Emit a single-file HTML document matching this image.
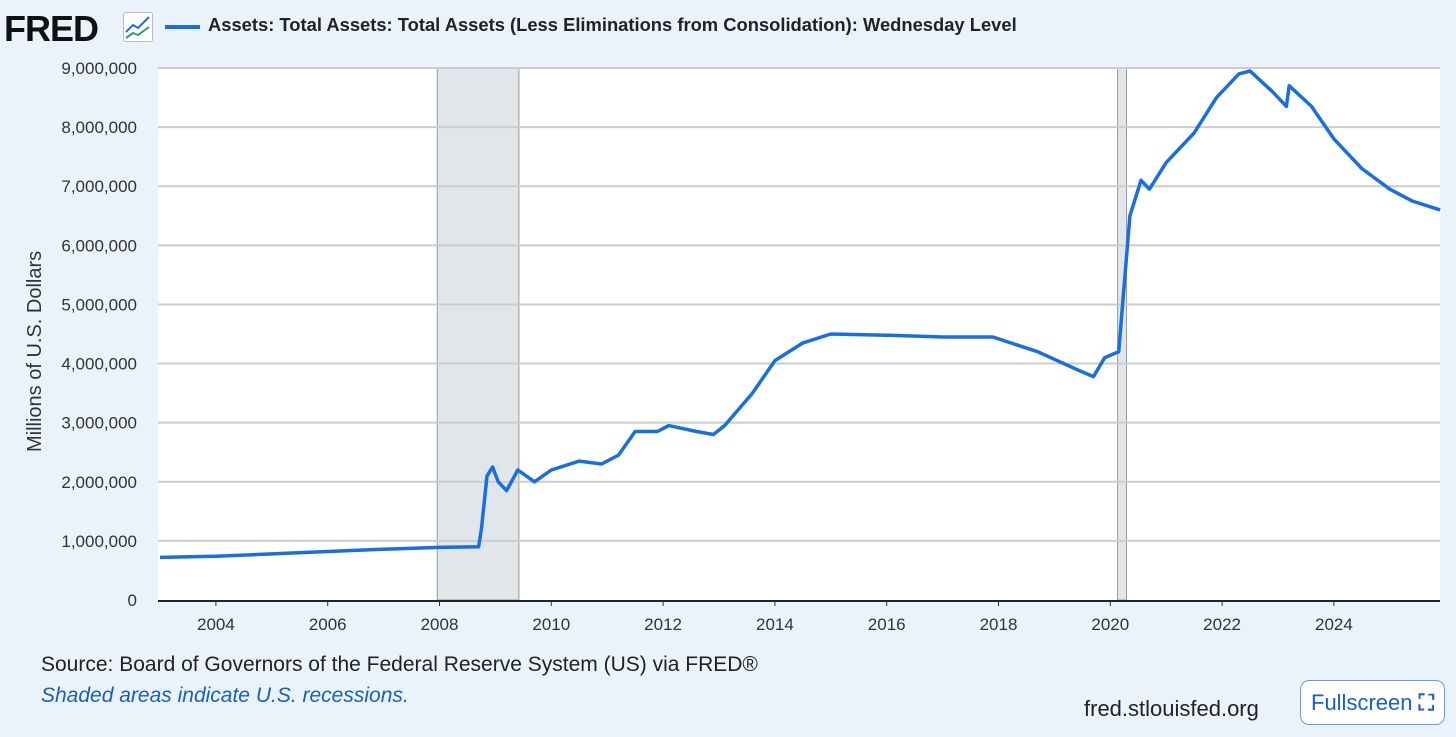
<!DOCTYPE html>
<html><head><meta charset="utf-8"><style>
body{margin:0;background:#eaf2fb;font-family:"Liberation Sans",sans-serif;}
#wrap{position:relative;width:1456px;height:737px;overflow:hidden;}
.t{position:absolute;white-space:nowrap;}
</style></head><body>
<div id="wrap">
<div class="t" style="left:4px;top:8px;font-size:36px;font-weight:bold;letter-spacing:-1px;color:#111;">FRED</div>
<svg style="position:absolute;left:123px;top:12px" width="30" height="30"><rect x="0.5" y="0.5" width="29" height="29" rx="2" fill="#fff" stroke="#bbb"/><polyline points="3,20 10,13 15,16 26,5" fill="none" stroke="#1a6fd8" stroke-width="2"/><polyline points="3,26 10,21 15,23 26,15" fill="none" stroke="#2a9d6e" stroke-width="2"/></svg>
<div style="position:absolute;left:165px;top:25px;width:35px;height:4px;background:#1a6fd8"></div>
<div class="t" style="left:208px;top:15px;font-size:18px;font-weight:bold;color:#222;transform:scaleX(1.02);transform-origin:0 0;">Assets: Total Assets: Total Assets (Less Eliminations from Consolidation): Wednesday Level</div>
<svg id="c" width="1456" height="737" style="position:absolute;left:0;top:0"></svg>
<div class="t" style="font-size:20px;color:#333;left:24px;top:452px;transform:rotate(-90deg);transform-origin:0 0;">Millions of U.S. Dollars</div>
<div class="t" style="left:41px;top:653px;font-size:21px;color:#222;">Source: Board of Governors of the Federal Reserve System (US) via FRED®</div>
<div class="t" style="left:41px;top:684px;font-size:21px;color:#1a5fb8;font-style:italic;">Shaded areas indicate U.S. recessions.</div>
<div class="t" style="left:1084px;top:696px;font-size:22px;color:#222;">fred.stlouisfed.org</div>
<div style="position:absolute;left:1300px;top:680px;width:145px;height:45px;box-sizing:border-box;border:1px solid #6a9ee0;border-radius:9px;background:#fff;color:#1a5fc8;font-size:22px;line-height:43px;padding-left:10px;">Fullscreen <span style="font-weight:bold">⛶</span></div>
</div>
<script>
const yTicks=[0,1000000,2000000,3000000,4000000,5000000,6000000,7000000,8000000,9000000];
const xTicks=[2004,2006,2008,2010,2012,2014,2016,2018,2020,2022,2024];
const recessions=[[2007.96,2009.42],[2020.13,2020.29]];
const years=[2003.0,2004,2005,2006,2007,2008,2008.7,2008.75,2008.85,2008.95,2009.05,2009.2,2009.4,2009.7,2010.0,2010.5,2010.9,2011.2,2011.5,2011.9,2012.1,2012.6,2012.9,2013.1,2013.6,2014.0,2014.5,2015.0,2016,2017,2017.9,2018.7,2019.4,2019.7,2019.9,2020.15,2020.35,2020.55,2020.7,2021.0,2021.5,2021.9,2022.3,2022.5,2022.9,2023.15,2023.2,2023.6,2024.0,2024.5,2025.0,2025.4,2025.9];
const values=[720000,740000,780000,820000,860000,890000,900000,1200000,2100000,2250000,2000000,1850000,2200000,2000000,2200000,2350000,2300000,2450000,2850000,2850000,2950000,2850000,2800000,2950000,3500000,4050000,4350000,4500000,4480000,4450000,4450000,4200000,3900000,3780000,4100000,4200000,6500000,7100000,6950000,7400000,7900000,8500000,8900000,8950000,8600000,8350000,8700000,8350000,7800000,7300000,6950000,6750000,6600000];
const NS="http://www.w3.org/2000/svg",svg=document.getElementById('c');
const L=158,R=1440,T=68,B=600;
const x=v=>160+(v-2003)*55.9, y=v=>B-(v/9000000)*(B-T);
function mk(t,a){const e=document.createElementNS(NS,t);for(const k in a)e.setAttribute(k,a[k]);svg.appendChild(e);return e;}
const bg=mk('rect',{x:L,y:T,width:R-L,height:B-T,fill:'#fff'});

recessions.forEach(r=>{const e=mk('rect',{x:x(r[0]),y:T,width:x(r[1])-x(r[0]),height:B-T,fill:'#e1e6ea',stroke:'#999','stroke-width':1});
});
yTicks.forEach(v=>{if(v>0){const g=mk('line',{x1:L,x2:R,y1:y(v),y2:y(v),stroke:'#ccc','stroke-width':2});
}
const t=mk('text',{x:137,y:y(v)+6,'text-anchor':'end','font-size':17,fill:'#333','font-family':'Liberation Sans'});t.textContent=v.toLocaleString('en-US');
});
xTicks.forEach(v=>{const t=mk('text',{x:x(v),y:630,'text-anchor':'middle','font-size':17,fill:'#333','font-family':'Liberation Sans'});t.textContent=v;

const k=mk('line',{x1:x(v),x2:x(v),y1:B,y2:B+6,stroke:'#333'});});
const ax=mk('line',{x1:L,x2:R,y1:B+1,y2:B+1,stroke:'#222','stroke-width':2});

const p=mk('path',{d:years.map((v,i)=>(i?'L':'M')+x(v).toFixed(1)+','+y(values[i]).toFixed(1)).join(''),fill:'none',stroke:'#1a6fe0','stroke-width':3.5,'stroke-linejoin':'round'});

</script>
</body></html>
